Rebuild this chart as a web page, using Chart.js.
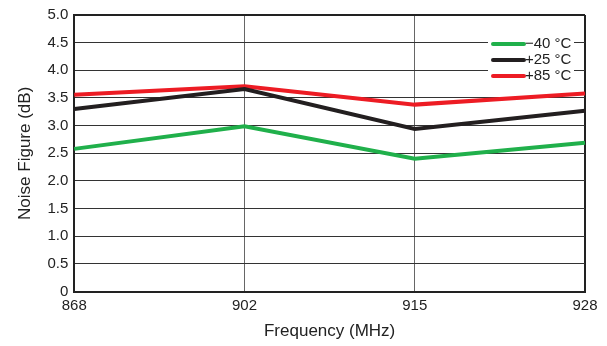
<!DOCTYPE html>
<html>
<head>
<meta charset="utf-8">
<script src="https://cdn.jsdelivr.net/npm/chart.js@4/dist/chart.umd.min.js"></script>
<style>
  html, body { margin: 0; padding: 0; background: #fff; }
  #wrap { width: 607px; height: 346px; }
</style>
</head>
<body>
<div id="wrap"><canvas id="nf_chart" width="607" height="346"></canvas></div>
<script type="text/javascript">
    // frequency points (MHz)
    var freqs = ["868", "902", "915", "928"];
    // noise figure (dB) per temperature
    var nfMinus40 = [2.58, 2.99, 2.40, 2.69];
    var nfPlus25 = [3.30, 3.66, 2.94, 3.27];
    var nfPlus85 = [3.56, 3.71, 3.38, 3.58];
    var seriesLabels = ["\u221240 \u00B0C", "+25 \u00B0C", "+85 \u00B0C"];
    var yTicks = ["0", "0.5", "1.0", "1.5", "2.0", "2.5", "3.0", "3.5", "4.0", "4.5", "5.0"];

    var FONT = "'Liberation Sans', Arial, sans-serif";

    // legend drawn inside the plot, top right, on a white box
    var insideLegend = {
        id: "insideLegend",
        afterDatasetsDraw: function (chart) {
            var ctx = chart.ctx;
            var area = chart.chartArea;
            var x0 = area.right - 97, y0 = area.top + 19;
            ctx.save();
            ctx.fillStyle = "#fff";
            ctx.fillRect(x0, y0, 86, 50);
            ctx.font = "15px " + FONT;
            ctx.textBaseline = "middle";
            chart.data.datasets.forEach(function (ds, i) {
                var y = y0 + 10 + i * 16;
                ctx.strokeStyle = ds.borderColor;
                ctx.lineWidth = 4;
                ctx.lineCap = "round";
                ctx.beginPath();
                ctx.moveTo(x0 + 5, y);
                ctx.lineTo(x0 + 36, y);
                ctx.stroke();
                ctx.fillStyle = "#222";
                ctx.fillText(ds.label, x0 + 37, y);
            });
            ctx.restore();
        }
    };

    var ctx = document.getElementById("nf_chart").getContext("2d");
    new Chart(ctx, {
        type: "line",
        data: {
            labels: freqs,
            datasets: [{
                label: seriesLabels[0],
                data: nfMinus40,
                borderColor: "#20b04b"
            }, {
                label: seriesLabels[1],
                data: nfPlus25,
                borderColor: "#231f20"
            }, {
                label: seriesLabels[2],
                data: nfPlus85,
                borderColor: "#ed1c24"
            }]
        },
        options: {
            responsive: false,
            animation: false,
            layout: { padding: { top: 9, right: 22, left: 15, bottom: 4 } },
            elements: {
                line: { borderWidth: 4, tension: 0 },
                point: { radius: 0 }
            },
            plugins: {
                legend: { display: false },
                tooltip: { enabled: false }
            },
            scales: {
                x: {
                    offset: false,
                    grid: {
                        color: function (c) { return c.index === 3 ? "#222" : (c.index === 0 ? "rgba(0,0,0,0)" : "#666"); },
                        lineWidth: function (c) { return c.index === 3 ? 2 : 1; },
                        drawTicks: false
                    },
                    border: { color: "#222", width: 2 },
                    ticks: { color: "#222", font: { family: FONT, size: 15 }, padding: 5, maxRotation: 0 },
                    title: { display: true, text: "Frequency (MHz)", color: "#222", font: { family: FONT, size: 17 }, padding: { top: 2, bottom: 0 } }
                },
                y: {
                    min: 0,
                    max: 5,
                    ticks: {
                        stepSize: 0.5,
                        color: "#222",
                        font: { family: FONT, size: 15 },
                        padding: 6,
                        callback: function (v, i) { return yTicks[i]; }
                    },
                    grid: {
                        color: function (c) { return c.index === 10 ? "#222" : "#333"; },
                        lineWidth: function (c) { return c.index === 10 ? 2 : 1; },
                        drawTicks: false
                    },
                    border: { color: "#222", width: 2 },
                    title: { display: true, text: "Noise Figure (dB)", color: "#222", font: { family: FONT, size: 17 }, padding: { top: 0, bottom: 6 } }
                }
            }
        },
        plugins: [insideLegend]
    });
</script>
</body>
</html>
